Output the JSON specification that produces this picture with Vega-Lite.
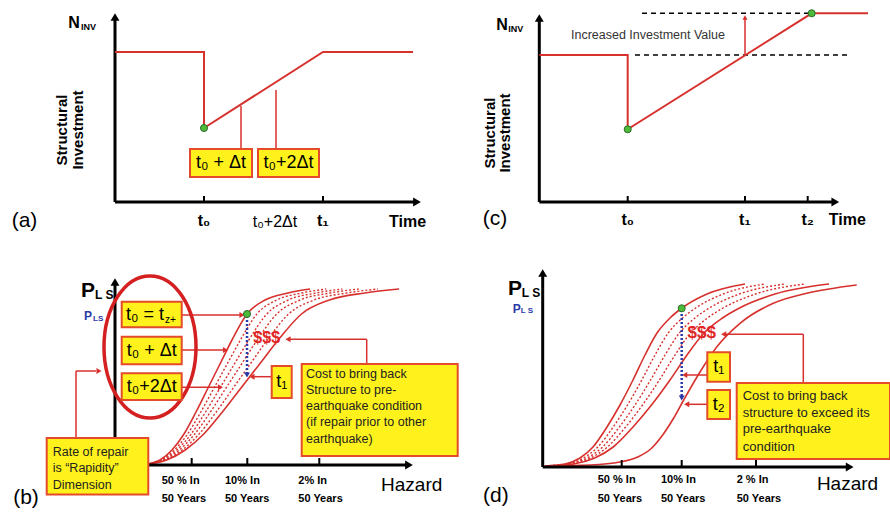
{
"$schema": "https://vega.github.io/schema/vega-lite/v6.json",
"padding": 0,
"spacing": 0,
"bounds": "flush",
"columns": 2,
"config": {"view": {"stroke": null}, "text": {"font": "Liberation Sans"}, "concat": {"spacing": 0}},
"concat": [
{
"width": 445, "height": 256,
"encoding": {
 "x": {"field": "x", "type": "quantitative", "axis": null, "scale": {"domain": [-115, 330], "nice": false, "zero": false}},
 "y": {"field": "y", "type": "quantitative", "axis": null, "scale": {"domain": [-54, 202], "nice": false, "zero": false}}
},
"layer": [
 {"data": {"values": [{"x": 0, "y": 0, "x2": 0, "y2": 183}, {"x": 0, "y": 0, "x2": 300, "y2": 0}]}, "mark": {"type": "rule", "color": "black", "strokeWidth": 3}, "encoding": {"x2": {"field": "x2"}, "y2": {"field": "y2"}}},
 {"data": {"values": [{"x": 0, "y": 185}]}, "mark": {"type": "point", "shape": "triangle-up", "filled": true, "color": "black", "size": 80, "opacity": 1}},
 {"data": {"values": [{"x": 302, "y": 0}]}, "mark": {"type": "point", "shape": "triangle-right", "filled": true, "color": "black", "size": 80, "opacity": 1}},
 {"data": {"values": [{"x": 89, "y": 0, "x2": 89, "y2": 6}, {"x": 208, "y": 0, "x2": 208, "y2": 6}]}, "mark": {"type": "rule", "color": "black", "strokeWidth": 2}, "encoding": {"x2": {"field": "x2"}, "y2": {"field": "y2"}}},
 {"data": {"values": [{"i": 1, "x": 0, "y": 150}, {"i": 2, "x": 89, "y": 150}, {"i": 3, "x": 89, "y": 74}, {"i": 4, "x": 208, "y": 150}, {"i": 5, "x": 298, "y": 150}]}, "mark": {"type": "line", "color": "#d7312e", "strokeWidth": 2}, "encoding": {"order": {"field": "i"}}},
 {"data": {"values": [{"x": 126, "y": 52, "x2": 126, "y2": 96}, {"x": 161, "y": 52, "x2": 161, "y2": 112}]}, "mark": {"type": "rule", "color": "#d7312e", "strokeWidth": 1.5}, "encoding": {"x2": {"field": "x2"}, "y2": {"field": "y2"}}},
 {"data": {"values": [{"x": 75, "y": 53, "x2": 137, "y2": 25}, {"x": 143, "y": 53, "x2": 204, "y2": 25}]}, "mark": {"type": "rect", "fill": "#fff21c", "stroke": "#e34b2a", "strokeWidth": 2}, "encoding": {"x2": {"field": "x2"}, "y2": {"field": "y2"}}},
 {"data": {"values": [{"x": 106, "y": 39, "t": "t₀ + Δt"}, {"x": 173.5, "y": 39, "t": "t₀+2Δt"}]}, "mark": {"type": "text", "fontSize": 18, "align": "center", "baseline": "middle", "color": "black"}, "encoding": {"text": {"field": "t"}}},
 {"data": {"values": [{"x": 89, "y": 74}]}, "mark": {"type": "point", "filled": true, "fill": "#4cbb3a", "stroke": "#2f6b2a", "strokeWidth": 1, "size": 50, "opacity": 1}},
 {"data": {"values": [{"x": 89, "y": -19, "t": "t₀"}, {"x": 208, "y": -19, "t": "t₁"}, {"x": 292.5, "y": -19.5, "t": "Time"}]}, "mark": {"type": "text", "fontSize": 16, "fontWeight": "bold", "align": "center", "baseline": "middle", "color": "black"}, "encoding": {"text": {"field": "t"}}},
 {"data": {"values": [{"x": 160, "y": -20, "t": "t₀+2Δt"}]}, "mark": {"type": "text", "fontSize": 16, "align": "center", "baseline": "middle", "color": "black"}, "encoding": {"text": {"field": "t"}}},
 {"data": {"values": [{"x": -90.5, "y": -19, "t": "(a)"}]}, "mark": {"type": "text", "fontSize": 21, "align": "center", "baseline": "middle", "color": "black"}, "encoding": {"text": {"field": "t"}}},
 {"data": {"values": [{"x": -41, "y": 178.7, "t": "N"}]}, "mark": {"type": "text", "fontSize": 16, "fontWeight": "bold", "align": "center", "baseline": "middle", "color": "black"}, "encoding": {"text": {"field": "t"}}},
 {"data": {"values": [{"x": -34, "y": 175, "t": "INV"}]}, "mark": {"type": "text", "fontSize": 9, "fontWeight": "bold", "align": "left", "baseline": "middle", "color": "black"}, "encoding": {"text": {"field": "t"}}},
 {"data": {"values": [{"x": -53, "y": 72, "t": "Structural"}, {"x": -37, "y": 72, "t": "Investment"}]}, "mark": {"type": "text", "fontSize": 15, "fontWeight": "bold", "angle": 270, "align": "center", "baseline": "middle", "color": "black"}, "encoding": {"text": {"field": "t"}}}
]
},
{
"width": 445, "height": 256,
"encoding": {
 "x": {"field": "x", "type": "quantitative", "axis": null, "scale": {"domain": [-94.3, 350.7], "nice": false, "zero": false}},
 "y": {"field": "y", "type": "quantitative", "axis": null, "scale": {"domain": [-54, 202], "nice": false, "zero": false}}
},
"layer": [
 {"data": {"values": [{"x": 0, "y": 0, "x2": 0, "y2": 182}, {"x": 0, "y": 0, "x2": 294, "y2": 0}]}, "mark": {"type": "rule", "color": "black", "strokeWidth": 3}, "encoding": {"x2": {"field": "x2"}, "y2": {"field": "y2"}}},
 {"data": {"values": [{"x": 0, "y": 184}]}, "mark": {"type": "point", "shape": "triangle-up", "filled": true, "color": "black", "size": 80, "opacity": 1}},
 {"data": {"values": [{"x": 296, "y": 0}]}, "mark": {"type": "point", "shape": "triangle-right", "filled": true, "color": "black", "size": 80, "opacity": 1}},
 {"data": {"values": [{"x": 88.4, "y": 0, "x2": 88.4, "y2": 6}, {"x": 205.7, "y": 0, "x2": 205.7, "y2": 6}, {"x": 268.4, "y": 0, "x2": 268.4, "y2": 6}]}, "mark": {"type": "rule", "color": "black", "strokeWidth": 2}, "encoding": {"x2": {"field": "x2"}, "y2": {"field": "y2"}}},
 {"data": {"values": [{"x": 102.7, "y": 188.7, "x2": 272.4, "y2": 188.7}, {"x": 95.7, "y": 147, "x2": 308.7, "y2": 147}]}, "mark": {"type": "rule", "color": "black", "strokeWidth": 1.5, "strokeDash": [5, 4]}, "encoding": {"x2": {"field": "x2"}, "y2": {"field": "y2"}}},
 {"data": {"values": [{"i": 1, "x": 0, "y": 147}, {"i": 2, "x": 88.4, "y": 147}, {"i": 3, "x": 88.4, "y": 72.7}, {"i": 4, "x": 272.4, "y": 188.7}, {"i": 5, "x": 328.7, "y": 188.7}]}, "mark": {"type": "line", "color": "#d7312e", "strokeWidth": 2}, "encoding": {"order": {"field": "i"}}},
 {"data": {"values": [{"x": 205.7, "y": 147, "x2": 205.7, "y2": 183}]}, "mark": {"type": "rule", "color": "#d7312e", "strokeWidth": 1.5}, "encoding": {"x2": {"field": "x2"}, "y2": {"field": "y2"}}},
 {"data": {"values": [{"x": 205.7, "y": 184.5}]}, "mark": {"type": "point", "shape": "triangle-up", "filled": true, "color": "#d7312e", "size": 25, "opacity": 1}},
 {"data": {"values": [{"x": 88.4, "y": 72.7}, {"x": 272.4, "y": 188.7}]}, "mark": {"type": "point", "filled": true, "fill": "#4cbb3a", "stroke": "#2f6b2a", "strokeWidth": 1, "size": 50, "opacity": 1}},
 {"data": {"values": [{"x": 108.7, "y": 167, "t": "Increased Investment Value"}]}, "mark": {"type": "text", "fontSize": 12.5, "align": "center", "baseline": "middle", "color": "#333333"}, "encoding": {"text": {"field": "t"}}},
 {"data": {"values": [{"x": 88.4, "y": -18, "t": "t₀"}, {"x": 205.7, "y": -18, "t": "t₁"}, {"x": 268.4, "y": -18, "t": "t₂"}, {"x": 308, "y": -18, "t": "Time"}]}, "mark": {"type": "text", "fontSize": 16, "fontWeight": "bold", "align": "center", "baseline": "middle", "color": "black"}, "encoding": {"text": {"field": "t"}}},
 {"data": {"values": [{"x": -44.3, "y": -17, "t": "(c)"}]}, "mark": {"type": "text", "fontSize": 21, "align": "center", "baseline": "middle", "color": "black"}, "encoding": {"text": {"field": "t"}}},
 {"data": {"values": [{"x": -37.3, "y": 177, "t": "N"}]}, "mark": {"type": "text", "fontSize": 16, "fontWeight": "bold", "align": "center", "baseline": "middle", "color": "black"}, "encoding": {"text": {"field": "t"}}},
 {"data": {"values": [{"x": -31, "y": 173.5, "t": "INV"}]}, "mark": {"type": "text", "fontSize": 9, "fontWeight": "bold", "align": "left", "baseline": "middle", "color": "black"}, "encoding": {"text": {"field": "t"}}},
 {"data": {"values": [{"x": -49.3, "y": 69, "t": "Structural"}, {"x": -34.3, "y": 69, "t": "Investment"}]}, "mark": {"type": "text", "fontSize": 15, "fontWeight": "bold", "angle": 270, "align": "center", "baseline": "middle", "color": "black"}, "encoding": {"text": {"field": "t"}}}
]
},
{
"width": 445, "height": 257,
"encoding": {
 "x": {"field": "x", "type": "quantitative", "axis": null, "scale": {"domain": [-115, 330], "nice": false, "zero": false}},
 "y": {"field": "y", "type": "quantitative", "axis": null, "scale": {"domain": [-48, 209], "nice": false, "zero": false}}
},
"layer": [
 {"data": {"values": [
  {"c": "s1", "x": 33, "y": 1}, {"c": "s1", "x": 45, "y": 5}, {"c": "s1", "x": 57, "y": 15}, {"c": "s1", "x": 69, "y": 31}, {"c": "s1", "x": 81, "y": 53}, {"c": "s1", "x": 93, "y": 77}, {"c": "s1", "x": 105, "y": 101}, {"c": "s1", "x": 117, "y": 125}, {"c": "s1", "x": 132, "y": 151}, {"c": "s1", "x": 150, "y": 165}, {"c": "s1", "x": 173, "y": 172}, {"c": "s1", "x": 195, "y": 176},
  {"c": "s6", "x": 33, "y": 1}, {"c": "s6", "x": 51.6, "y": 5}, {"c": "s6", "x": 70.2, "y": 15}, {"c": "s6", "x": 88.8, "y": 31}, {"c": "s6", "x": 107.4, "y": 53}, {"c": "s6", "x": 126, "y": 77}, {"c": "s6", "x": 144.6, "y": 101}, {"c": "s6", "x": 163.2, "y": 125}, {"c": "s6", "x": 186.5, "y": 151}, {"c": "s6", "x": 214.4, "y": 165}, {"c": "s6", "x": 250, "y": 172}, {"c": "s6", "x": 284.1, "y": 176}
 ]}, "mark": {"type": "line", "color": "#d7312e", "strokeWidth": 1.6, "interpolate": "monotone"}, "encoding": {"detail": {"field": "c"}}},
 {"data": {"values": [
  {"c": "s2", "x": 33, "y": 1}, {"c": "s2", "x": 46.2, "y": 5}, {"c": "s2", "x": 59.4, "y": 15}, {"c": "s2", "x": 72.6, "y": 31}, {"c": "s2", "x": 85.8, "y": 53}, {"c": "s2", "x": 99, "y": 77}, {"c": "s2", "x": 112.2, "y": 101}, {"c": "s2", "x": 125.4, "y": 125}, {"c": "s2", "x": 141.9, "y": 151}, {"c": "s2", "x": 161.7, "y": 165}, {"c": "s2", "x": 187, "y": 172}, {"c": "s2", "x": 211.2, "y": 176},
  {"c": "s3", "x": 33, "y": 1}, {"c": "s3", "x": 47.4, "y": 5}, {"c": "s3", "x": 61.8, "y": 15}, {"c": "s3", "x": 76.2, "y": 31}, {"c": "s3", "x": 90.6, "y": 53}, {"c": "s3", "x": 105, "y": 77}, {"c": "s3", "x": 119.4, "y": 101}, {"c": "s3", "x": 133.8, "y": 125}, {"c": "s3", "x": 151.8, "y": 151}, {"c": "s3", "x": 173.4, "y": 165}, {"c": "s3", "x": 201, "y": 172}, {"c": "s3", "x": 227.4, "y": 176},
  {"c": "s4", "x": 33, "y": 1}, {"c": "s4", "x": 48.6, "y": 5}, {"c": "s4", "x": 64.2, "y": 15}, {"c": "s4", "x": 79.8, "y": 31}, {"c": "s4", "x": 95.4, "y": 53}, {"c": "s4", "x": 111, "y": 77}, {"c": "s4", "x": 126.6, "y": 101}, {"c": "s4", "x": 142.2, "y": 125}, {"c": "s4", "x": 161.7, "y": 151}, {"c": "s4", "x": 185.1, "y": 165}, {"c": "s4", "x": 215, "y": 172}, {"c": "s4", "x": 243.6, "y": 176},
  {"c": "s5", "x": 33, "y": 1}, {"c": "s5", "x": 50, "y": 5}, {"c": "s5", "x": 67.1, "y": 15}, {"c": "s5", "x": 84.1, "y": 31}, {"c": "s5", "x": 101.2, "y": 53}, {"c": "s5", "x": 118.2, "y": 77}, {"c": "s5", "x": 135.2, "y": 101}, {"c": "s5", "x": 152.3, "y": 125}, {"c": "s5", "x": 173.6, "y": 151}, {"c": "s5", "x": 199.1, "y": 165}, {"c": "s5", "x": 231.8, "y": 172}, {"c": "s5", "x": 263, "y": 176}
 ]}, "mark": {"type": "line", "color": "#d7312e", "strokeWidth": 1.4, "strokeDash": [2, 2], "interpolate": "monotone"}, "encoding": {"detail": {"field": "c"}}},
 {"data": {"values": [{"x": 0, "y": 0, "x2": 0, "y2": 181}, {"x": 0, "y": 0, "x2": 292, "y2": 0}]}, "mark": {"type": "rule", "color": "black", "strokeWidth": 3}, "encoding": {"x2": {"field": "x2"}, "y2": {"field": "y2"}}},
 {"data": {"values": [{"x": 0, "y": 183}]}, "mark": {"type": "point", "shape": "triangle-up", "filled": true, "color": "black", "size": 80, "opacity": 1}},
 {"data": {"values": [{"x": 294, "y": 0}]}, "mark": {"type": "point", "shape": "triangle-right", "filled": true, "color": "black", "size": 80, "opacity": 1}},
 {"data": {"values": [{"x": 76.7, "y": 0, "x2": 76.7, "y2": 7}, {"x": 132.3, "y": 0, "x2": 132.3, "y2": 7}, {"x": 204.3, "y": 0, "x2": 204.3, "y2": 7}]}, "mark": {"type": "rule", "color": "black", "strokeWidth": 2}, "encoding": {"x2": {"field": "x2"}, "y2": {"field": "y2"}}},
 {"data": {"values": [
  {"x": 66.7, "y": 150, "x2": 126, "y2": 150}, {"x": 66.7, "y": 115, "x2": 109, "y2": 115}, {"x": 66.7, "y": 77.7, "x2": 104, "y2": 77.7},
  {"x": -39, "y": 27, "x2": -39, "y2": 94}, {"x": -39, "y": 94, "x2": -19, "y2": 94},
  {"x": 156.7, "y": 88.3, "x2": 139, "y2": 88.3},
  {"x": 251.7, "y": 101, "x2": 251.7, "y2": 125.7}, {"x": 251.7, "y": 125.7, "x2": 175, "y2": 125.7}
 ]}, "mark": {"type": "rule", "color": "#d7312e", "strokeWidth": 1.5}, "encoding": {"x2": {"field": "x2"}, "y2": {"field": "y2"}}},
 {"data": {"values": [{"x": 127, "y": 150}, {"x": 110.5, "y": 115}, {"x": 105.5, "y": 77.7}, {"x": -16, "y": 94}]}, "mark": {"type": "point", "shape": "triangle-right", "filled": true, "color": "#d7312e", "size": 35, "opacity": 1}},
 {"data": {"values": [{"x": 137, "y": 88.3}, {"x": 173, "y": 125.7}]}, "mark": {"type": "point", "shape": "triangle-left", "filled": true, "color": "#d7312e", "size": 35, "opacity": 1}},
 {"data": {"values": [{"x": 132, "y": 149, "x2": 132, "y2": 92}]}, "mark": {"type": "rule", "color": "#2a3aa8", "strokeWidth": 2.5, "strokeDash": [2, 2]}, "encoding": {"x2": {"field": "x2"}, "y2": {"field": "y2"}}},
 {"data": {"values": [{"x": 132, "y": 90}]}, "mark": {"type": "point", "shape": "triangle-down", "filled": true, "color": "#2a3aa8", "size": 35, "opacity": 1}},
 {"data": {"values": [{"x": 132, "y": 151}]}, "mark": {"type": "point", "filled": true, "fill": "#4cbb3a", "stroke": "#2f6b2a", "strokeWidth": 1, "size": 50, "opacity": 1}},
 {"data": {"values": [{"x": 35, "y": 118}]}, "mark": {"type": "point", "shape": "M -0.648 0 A 0.648 1 0 1 1 0.648 0 A 0.648 1 0 1 1 -0.648 0 Z", "filled": false, "stroke": "#d42020", "strokeWidth": 3.5, "size": 20164, "opacity": 1}},
 {"data": {"values": [
  {"x": 6.7, "y": 163.3, "x2": 66.7, "y2": 137.7}, {"x": 6.7, "y": 128.3, "x2": 66.7, "y2": 100.7}, {"x": 6.7, "y": 91.7, "x2": 66.7, "y2": 65},
  {"x": 156.7, "y": 99, "x2": 176.7, "y2": 67}, {"x": 186.7, "y": 101, "x2": 342.7, "y2": 9}, {"x": -68.3, "y": 27, "x2": 33.3, "y2": -29.5}
 ]}, "mark": {"type": "rect", "fill": "#fff21c", "stroke": "#e34b2a", "strokeWidth": 2}, "encoding": {"x2": {"field": "x2"}, "y2": {"field": "y2"}}},
 {"data": {"values": [{"x": 11, "y": 150, "t": "t₀ = t"}]}, "mark": {"type": "text", "fontSize": 18, "align": "left", "baseline": "middle", "color": "black"}, "encoding": {"text": {"field": "t"}}},
 {"data": {"values": [{"x": 50, "y": 145, "t": "z+"}]}, "mark": {"type": "text", "fontSize": 10, "align": "left", "baseline": "middle", "color": "black"}, "encoding": {"text": {"field": "t"}}},
 {"data": {"values": [{"x": 36.7, "y": 114.5, "t": "t₀ + Δt"}, {"x": 36.7, "y": 78.3, "t": "t₀+2Δt"}, {"x": 166.7, "y": 83, "t": "t₁"}]}, "mark": {"type": "text", "fontSize": 18, "align": "center", "baseline": "middle", "color": "black"}, "encoding": {"text": {"field": "t"}}},
 {"data": {"values": [{"x": 151.7, "y": 126.7, "t": "$$$"}]}, "mark": {"type": "text", "fontSize": 16, "fontWeight": "bold", "align": "center", "baseline": "middle", "color": "#e02525"}, "encoding": {"text": {"field": "t"}}},
 {"data": {"values": [
  {"x": 191, "y": 90.7, "t": "Cost to bring back"}, {"x": 191, "y": 74.7, "t": "Structure to pre-"}, {"x": 191, "y": 59, "t": "earthquake condition"}, {"x": 191, "y": 43.3, "t": "(if repair prior to other"}, {"x": 191, "y": 26.3, "t": "earthquake)"},
  {"x": -62.3, "y": 13.3, "t": "Rate of repair"}, {"x": -62.3, "y": -3.3, "t": "is “Rapidity”"}, {"x": -62.3, "y": -20, "t": "Dimension"}
 ]}, "mark": {"type": "text", "fontSize": 12.5, "align": "left", "baseline": "middle", "color": "#222222"}, "encoding": {"text": {"field": "t"}}},
 {"data": {"values": [
  {"x": 46.7, "y": -15.7, "t": "50 % In"}, {"x": 46.7, "y": -34, "t": "50 Years"},
  {"x": 110, "y": -15.7, "t": "10% In"}, {"x": 110, "y": -34, "t": "50 Years"},
  {"x": 183.3, "y": -15.7, "t": "2% In"}, {"x": 183.3, "y": -34, "t": "50 Years"}
 ]}, "mark": {"type": "text", "fontSize": 11, "fontWeight": "bold", "align": "left", "baseline": "middle", "color": "black"}, "encoding": {"text": {"field": "t"}}},
 {"data": {"values": [{"x": 296.7, "y": -20, "t": "Hazard"}]}, "mark": {"type": "text", "fontSize": 19, "align": "center", "baseline": "middle", "color": "black"}, "encoding": {"text": {"field": "t"}}},
 {"data": {"values": [{"x": -89, "y": -32.7, "t": "(b)"}]}, "mark": {"type": "text", "fontSize": 21, "align": "center", "baseline": "middle", "color": "black"}, "encoding": {"text": {"field": "t"}}},
 {"data": {"values": [{"x": -27, "y": 174, "t": "P"}]}, "mark": {"type": "text", "fontSize": 21, "fontWeight": "bold", "align": "center", "baseline": "middle", "color": "black"}, "encoding": {"text": {"field": "t"}}},
 {"data": {"values": [{"x": -20, "y": 170, "t": "L S"}]}, "mark": {"type": "text", "fontSize": 12, "fontWeight": "bold", "align": "left", "baseline": "middle", "color": "black"}, "encoding": {"text": {"field": "t"}}},
 {"data": {"values": [{"x": -27, "y": 149, "t": "P"}]}, "mark": {"type": "text", "fontSize": 12, "fontWeight": "bold", "align": "center", "baseline": "middle", "color": "#2a3aa8"}, "encoding": {"text": {"field": "t"}}},
 {"data": {"values": [{"x": -22, "y": 146.5, "t": "LS"}]}, "mark": {"type": "text", "fontSize": 8, "fontWeight": "bold", "align": "left", "baseline": "middle", "color": "#2a3aa8"}, "encoding": {"text": {"field": "t"}}}
]
},
{
"width": 445, "height": 257,
"encoding": {
 "x": {"field": "x", "type": "quantitative", "axis": null, "scale": {"domain": [-97.7, 347.3], "nice": false, "zero": false}},
 "y": {"field": "y", "type": "quantitative", "axis": null, "scale": {"domain": [-46, 211], "nice": false, "zero": false}}
},
"layer": [
 {"data": {"values": [
  {"c": "s1", "x": 2.3, "y": 1}, {"c": "s1", "x": 22.3, "y": 3}, {"c": "s1", "x": 37.3, "y": 9}, {"c": "s1", "x": 50.3, "y": 20}, {"c": "s1", "x": 64.3, "y": 40}, {"c": "s1", "x": 77.3, "y": 62}, {"c": "s1", "x": 90.3, "y": 87}, {"c": "s1", "x": 102.3, "y": 112}, {"c": "s1", "x": 114.3, "y": 134}, {"c": "s1", "x": 127.3, "y": 149}, {"c": "s1", "x": 139.3, "y": 159}, {"c": "s1", "x": 164.3, "y": 173}, {"c": "s1", "x": 202.3, "y": 183},
  {"c": "s5", "x": 2.3, "y": 1}, {"c": "s5", "x": 30.7, "y": 3}, {"c": "s5", "x": 52, "y": 9}, {"c": "s5", "x": 70.5, "y": 20}, {"c": "s5", "x": 90.3, "y": 40}, {"c": "s5", "x": 108.8, "y": 62}, {"c": "s5", "x": 127.3, "y": 87}, {"c": "s5", "x": 144.3, "y": 112}, {"c": "s5", "x": 161.3, "y": 134}, {"c": "s5", "x": 179.8, "y": 149}, {"c": "s5", "x": 196.8, "y": 159}, {"c": "s5", "x": 232.3, "y": 173}, {"c": "s5", "x": 286.3, "y": 183},
  {"c": "s6", "x": 2.3, "y": 1}, {"c": "s6", "x": 47.3, "y": 2}, {"c": "s6", "x": 77.3, "y": 5}, {"c": "s6", "x": 95, "y": 10}, {"c": "s6", "x": 108, "y": 18}, {"c": "s6", "x": 120, "y": 32}, {"c": "s6", "x": 131, "y": 49}, {"c": "s6", "x": 141, "y": 67}, {"c": "s6", "x": 157.3, "y": 95}, {"c": "s6", "x": 174, "y": 120}, {"c": "s6", "x": 197.3, "y": 143.7}, {"c": "s6", "x": 230.6, "y": 163.7}, {"c": "s6", "x": 264, "y": 173.7}, {"c": "s6", "x": 314, "y": 182}
 ]}, "mark": {"type": "line", "color": "#d7312e", "strokeWidth": 1.6, "interpolate": "monotone"}, "encoding": {"detail": {"field": "c"}}},
 {"data": {"values": [
  {"c": "s2", "x": 2.3, "y": 1}, {"c": "s2", "x": 24.3, "y": 3}, {"c": "s2", "x": 40.8, "y": 9}, {"c": "s2", "x": 55.1, "y": 20}, {"c": "s2", "x": 70.5, "y": 40}, {"c": "s2", "x": 84.8, "y": 62}, {"c": "s2", "x": 99.1, "y": 87}, {"c": "s2", "x": 112.3, "y": 112}, {"c": "s2", "x": 125.5, "y": 134}, {"c": "s2", "x": 139.8, "y": 149}, {"c": "s2", "x": 153, "y": 159}, {"c": "s2", "x": 180.5, "y": 173}, {"c": "s2", "x": 222.3, "y": 183},
  {"c": "s3", "x": 2.3, "y": 1}, {"c": "s3", "x": 26.3, "y": 3}, {"c": "s3", "x": 44.3, "y": 9}, {"c": "s3", "x": 59.9, "y": 20}, {"c": "s3", "x": 76.7, "y": 40}, {"c": "s3", "x": 92.3, "y": 62}, {"c": "s3", "x": 107.9, "y": 87}, {"c": "s3", "x": 122.3, "y": 112}, {"c": "s3", "x": 136.7, "y": 134}, {"c": "s3", "x": 152.3, "y": 149}, {"c": "s3", "x": 166.7, "y": 159}, {"c": "s3", "x": 196.7, "y": 173}, {"c": "s3", "x": 242.3, "y": 183},
  {"c": "s4", "x": 2.3, "y": 1}, {"c": "s4", "x": 28.3, "y": 3}, {"c": "s4", "x": 47.8, "y": 9}, {"c": "s4", "x": 64.7, "y": 20}, {"c": "s4", "x": 82.9, "y": 40}, {"c": "s4", "x": 99.8, "y": 62}, {"c": "s4", "x": 116.7, "y": 87}, {"c": "s4", "x": 132.3, "y": 112}, {"c": "s4", "x": 147.9, "y": 134}, {"c": "s4", "x": 164.8, "y": 149}, {"c": "s4", "x": 180.4, "y": 159}, {"c": "s4", "x": 212.9, "y": 173}, {"c": "s4", "x": 262.3, "y": 183}
 ]}, "mark": {"type": "line", "color": "#d7312e", "strokeWidth": 1.4, "strokeDash": [2, 2], "interpolate": "monotone"}, "encoding": {"detail": {"field": "c"}}},
 {"data": {"values": [{"x": 0, "y": 0, "x2": 0, "y2": 192}, {"x": 0, "y": 0, "x2": 305, "y2": 0}]}, "mark": {"type": "rule", "color": "black", "strokeWidth": 3}, "encoding": {"x2": {"field": "x2"}, "y2": {"field": "y2"}}},
 {"data": {"values": [{"x": 0, "y": 194}]}, "mark": {"type": "point", "shape": "triangle-up", "filled": true, "color": "black", "size": 80, "opacity": 1}},
 {"data": {"values": [{"x": 307, "y": 0}]}, "mark": {"type": "point", "shape": "triangle-right", "filled": true, "color": "black", "size": 80, "opacity": 1}},
 {"data": {"values": [{"x": 79, "y": 0, "x2": 79, "y2": 7}, {"x": 139, "y": 0, "x2": 139, "y2": 7}, {"x": 213.3, "y": 0, "x2": 213.3, "y2": 7}]}, "mark": {"type": "rule", "color": "black", "strokeWidth": 2}, "encoding": {"x2": {"field": "x2"}, "y2": {"field": "y2"}}},
 {"data": {"values": [
  {"x": 260.6, "y": 132.7, "x2": 183, "y2": 132.7}, {"x": 260.6, "y": 132.7, "x2": 260.6, "y2": 84},
  {"x": 164.6, "y": 92, "x2": 144, "y2": 92}, {"x": 164.6, "y": 62.7, "x2": 146, "y2": 62.7}
 ]}, "mark": {"type": "rule", "color": "#d7312e", "strokeWidth": 1.5}, "encoding": {"x2": {"field": "x2"}, "y2": {"field": "y2"}}},
 {"data": {"values": [{"x": 181, "y": 132.7}, {"x": 142, "y": 92}, {"x": 144, "y": 62.7}]}, "mark": {"type": "point", "shape": "triangle-left", "filled": true, "color": "#d7312e", "size": 35, "opacity": 1}},
 {"data": {"values": [{"x": 139, "y": 157, "x2": 139, "y2": 71}]}, "mark": {"type": "rule", "color": "#2a3aa8", "strokeWidth": 2.5, "strokeDash": [2, 2]}, "encoding": {"x2": {"field": "x2"}, "y2": {"field": "y2"}}},
 {"data": {"values": [{"x": 139, "y": 69}]}, "mark": {"type": "point", "shape": "triangle-down", "filled": true, "color": "#2a3aa8", "size": 35, "opacity": 1}},
 {"data": {"values": [{"x": 139, "y": 158.7}]}, "mark": {"type": "point", "filled": true, "fill": "#4cbb3a", "stroke": "#2f6b2a", "strokeWidth": 1, "size": 50, "opacity": 1}},
 {"data": {"values": [{"x": 164.6, "y": 114.7, "x2": 187.3, "y2": 85.3}, {"x": 164.6, "y": 77, "x2": 187.3, "y2": 48}, {"x": 194, "y": 84, "x2": 347.3, "y2": 8}]}, "mark": {"type": "rect", "fill": "#fff21c", "stroke": "#e34b2a", "strokeWidth": 2}, "encoding": {"x2": {"field": "x2"}, "y2": {"field": "y2"}}},
 {"data": {"values": [{"x": 176, "y": 100, "t": "t₁"}, {"x": 176, "y": 62.5, "t": "t₂"}]}, "mark": {"type": "text", "fontSize": 18, "align": "center", "baseline": "middle", "color": "black"}, "encoding": {"text": {"field": "t"}}},
 {"data": {"values": [{"x": 159, "y": 133.7, "t": "$$$"}]}, "mark": {"type": "text", "fontSize": 17, "fontWeight": "bold", "align": "center", "baseline": "middle", "color": "#e02525"}, "encoding": {"text": {"field": "t"}}},
 {"data": {"values": [
  {"x": 200, "y": 71, "t": "Cost to bring back"}, {"x": 200, "y": 54.3, "t": "structure to exceed its"}, {"x": 200, "y": 37.7, "t": "pre-earthquake"}, {"x": 200, "y": 20.3, "t": "condition"}
 ]}, "mark": {"type": "text", "fontSize": 13, "align": "left", "baseline": "middle", "color": "#222222"}, "encoding": {"text": {"field": "t"}}},
 {"data": {"values": [
  {"x": 55, "y": -13, "t": "50 % In"}, {"x": 55, "y": -32, "t": "50 Years"},
  {"x": 118.3, "y": -13, "t": "10% In"}, {"x": 118.3, "y": -32, "t": "50 Years"},
  {"x": 194, "y": -13, "t": "2 % In"}, {"x": 194, "y": -32, "t": "50 Years"}
 ]}, "mark": {"type": "text", "fontSize": 11, "fontWeight": "bold", "align": "left", "baseline": "middle", "color": "black"}, "encoding": {"text": {"field": "t"}}},
 {"data": {"values": [{"x": 304.8, "y": -17.3, "t": "Hazard"}]}, "mark": {"type": "text", "fontSize": 19, "align": "center", "baseline": "middle", "color": "black"}, "encoding": {"text": {"field": "t"}}},
 {"data": {"values": [{"x": -46.9, "y": -29, "t": "(d)"}]}, "mark": {"type": "text", "fontSize": 21, "align": "center", "baseline": "middle", "color": "black"}, "encoding": {"text": {"field": "t"}}},
 {"data": {"values": [{"x": -27.7, "y": 178, "t": "P"}]}, "mark": {"type": "text", "fontSize": 21, "fontWeight": "bold", "align": "center", "baseline": "middle", "color": "black"}, "encoding": {"text": {"field": "t"}}},
 {"data": {"values": [{"x": -21, "y": 174, "t": "L S"}]}, "mark": {"type": "text", "fontSize": 12, "fontWeight": "bold", "align": "left", "baseline": "middle", "color": "black"}, "encoding": {"text": {"field": "t"}}},
 {"data": {"values": [{"x": -26, "y": 158.3, "t": "P"}]}, "mark": {"type": "text", "fontSize": 12, "fontWeight": "bold", "align": "center", "baseline": "middle", "color": "#2a3aa8"}, "encoding": {"text": {"field": "t"}}},
 {"data": {"values": [{"x": -22, "y": 156.5, "t": "L S"}]}, "mark": {"type": "text", "fontSize": 8, "fontWeight": "bold", "align": "left", "baseline": "middle", "color": "#2a3aa8"}, "encoding": {"text": {"field": "t"}}}
]
}
]
}
